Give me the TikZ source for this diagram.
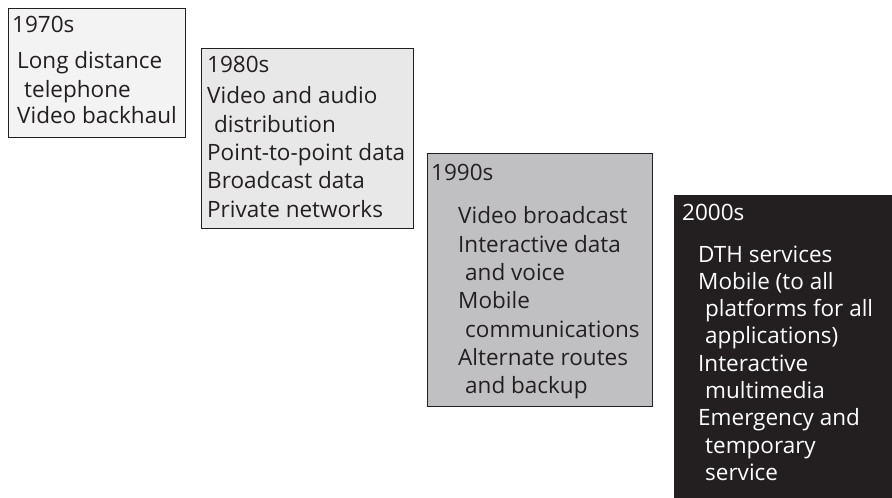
\documentclass[tikz,border=0pt]{standalone}
\usepackage{fontspec}
\setmainfont{Open Sans}
\definecolor{cA}{HTML}{F3F3F3}
\definecolor{cB}{HTML}{E8E8E8}
\definecolor{cC}{HTML}{C0C0C2}
\definecolor{cD}{HTML}{231F20}
\begin{document}
\begin{tikzpicture}[x=1pt,y=-1pt,
  box/.style={draw=cD, line width=1.4pt, inner sep=0pt, anchor=north west},
  txt/.style={anchor=base west, inner sep=0pt, text=cD, font=\fontsize{22.5}{27}\selectfont},
  wtxt/.style={txt, text=white}]
\useasboundingbox (0,0) rectangle (892,498);
% boxes
\node[box, fill=cA, minimum width=177pt, minimum height=129pt] (b1) at (8,8) {};
\node[box, fill=cB, minimum width=212pt, minimum height=180pt] (b2) at (201,48) {};
\node[box, fill=cC, minimum width=225pt, minimum height=253pt] (b3) at (427,153) {};
\node[box, fill=cD, minimum width=220pt, minimum height=305pt] (b4) at (674,195) {};
% 1970s
\node[txt] (t1h) at (12,32) {1970s};
\node[txt] (t1a) at (17,68) {Long distance};
\node[txt] (t1b) at (24,97) {telephone};
\node[txt] (t1c) at (17,123) {Video backhaul};
% 1980s
\node[txt] (t2h) at (207,72) {1980s};
\node[txt] (t2a) at (207,103) {Video and audio};
\node[txt] (t2b) at (214,132) {distribution};
\node[txt] (t2c) at (207,160) {Point-to-point data};
\node[txt] (t2d) at (207,188) {Broadcast data};
\node[txt] (t2e) at (207,217) {Private networks};
% 1990s
\node[txt] (t3h) at (431,180) {1990s};
\node[txt] (t3a) at (458,223) {Video broadcast};
\node[txt] (t3b) at (458,252) {Interactive data};
\node[txt] (t3c) at (465,280) {and voice};
\node[txt] (t3d) at (458,308) {Mobile};
\node[txt] (t3e) at (465,337) {communications};
\node[txt] (t3f) at (458,365) {Alternate routes};
\node[txt] (t3g) at (465,393) {and backup};
% 2000s
\node[wtxt] (t4h) at (682,220) {2000s};
\node[wtxt] (t4a) at (698,262) {DTH services};
\node[wtxt] (t4b) at (698,289.3) {Mobile (to all};
\node[wtxt] (t4c) at (705,316.6) {platforms for all};
\node[wtxt] (t4d) at (705,343.9) {applications)};
\node[wtxt] (t4e) at (698,371.2) {Interactive};
\node[wtxt] (t4f) at (705,398.5) {multimedia};
\node[wtxt] (t4g) at (698,425.8) {Emergency and};
\node[wtxt] (t4h2) at (705,453.1) {temporary};
\node[wtxt] (t4i) at (705,480.4) {service};
\end{tikzpicture}
\end{document}
